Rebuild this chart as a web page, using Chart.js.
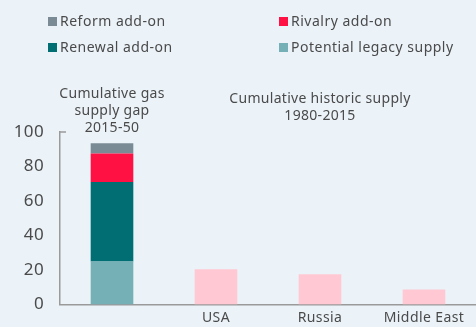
<!DOCTYPE html>
<html>
<head>
<meta charset="utf-8">
<script src="https://cdn.jsdelivr.net/npm/chart.js@4.4.1/dist/chart.umd.min.js"></script>
<style>
  html, body { margin: 0; padding: 0; background: #EBF3F9; }
  #wrap { position: relative; width: 476px; height: 327px; }
  canvas { position: absolute; left: 0; top: 0; }
  .legend { position: absolute; font-family: "Noto Sans", sans-serif; font-size: 14px; letter-spacing: 0.5px; color: #4a4a4a; white-space: nowrap; line-height: 16px; }
  .legend span.sw { display: inline-block; width: 9px; height: 9px; margin-right: 3px; vertical-align: 0px; }
</style>
</head>
<body>
<div id="wrap">
  <canvas id="c" width="476" height="327"></canvas>
  <div class="legend" style="left:48px; top:13px;"><span class="sw" style="background:#7B8B96"></span>Reform add-on</div>
  <div class="legend" style="left:279px; top:13px;"><span class="sw" style="background:#FF1243"></span>Rivalry add-on</div>
  <div class="legend" style="left:48px; top:39px;"><span class="sw" style="background:#006E73"></span>Renewal add-on</div>
  <div class="legend" style="left:279px; top:39px;"><span class="sw" style="background:#75B0B6"></span>Potential legacy supply</div>
</div>
<script>
// Categories and values
const categories = ["", "USA", "Russia", "Middle East"];
const legacySupply = [25, null, null, null];
const renewalAddOn = [46, null, null, null];
const rivalryAddOn = [16.5, null, null, null];
const reformAddOn = [6, null, null, null];
const historicSupply = [null, 20.5, 17.6, 8.7];
const yTicks = [0, 20, 40, 60, 80, 100];

const FONT = '"Noto Sans", sans-serif';
const TEXT = '#4a4a4a';

// Slightly open letter spacing for all canvas text
const spacing = {
  id: 'spacing',
  beforeDraw(chart) { chart.ctx.letterSpacing = '0.4px'; }
};

// Group captions above the bars
const captions = {
  id: 'captions',
  afterDraw(chart) {
    const ctx = chart.ctx;
    const x = chart.scales.x;
    ctx.save();
    ctx.letterSpacing = '0.3px';
    ctx.font = '14px ' + FONT;
    ctx.fillStyle = TEXT;
    ctx.textAlign = 'center';
    ctx.textBaseline = 'middle';
    const x0 = x.getPixelForValue(0);
    ['Cumulative gas', 'supply gap', '2015-50'].forEach((t, i) => ctx.fillText(t, x0, 94 + i * 17));
    const x2 = x.getPixelForValue(2);
    ['Cumulative historic supply', '1980-2015'].forEach((t, i) => ctx.fillText(t, x2, 99 + i * 17));
    // small cap at the top of the value axis
    const y = chart.scales.y;
    const top = y.getPixelForValue(100);
    ctx.strokeStyle = '#9a9a9a';
    ctx.lineWidth = 1.5;
    ctx.beginPath();
    ctx.moveTo(chart.chartArea.left, top);
    ctx.lineTo(chart.chartArea.left + 6, top);
    ctx.stroke();
    ctx.restore();
  }
};

const common = { stack: 's', barPercentage: 0.41, categoryPercentage: 1.0, borderWidth: 0 };

new Chart(document.getElementById('c'), {
  type: 'bar',
  data: {
    labels: categories,
    datasets: [
      { label: 'Potential legacy supply', data: legacySupply, backgroundColor: '#75B0B6', ...common },
      { label: 'Renewal add-on', data: renewalAddOn, backgroundColor: '#006E73', ...common },
      { label: 'Rivalry add-on', data: rivalryAddOn, backgroundColor: '#FF1243', ...common },
      { label: 'Reform add-on', data: reformAddOn, backgroundColor: '#7B8B96', ...common },
      { label: 'Cumulative historic supply', data: historicSupply, backgroundColor: '#FFC8D3', ...common }
    ]
  },
  options: {
    responsive: false,
    animation: false,
    layout: { padding: { top: 132, right: 0, bottom: 0, left: 0 } },
    plugins: { legend: { display: false }, tooltip: { enabled: false } },
    scales: {
      x: {
        stacked: true,
        afterFit(s) { s.height = 22.5; },
        grid: { display: false, drawTicks: false },
        border: { color: '#9a9a9a', width: 1.5 },
        ticks: { color: TEXT, font: { family: FONT, size: 14 }, padding: 5, maxRotation: 0 }
      },
      y: {
        stacked: true,
        min: 0, max: 100,
        afterFit(s) { s.width = 60; s.paddingTop = 0; s.paddingBottom = 0; },
        afterBuildTicks(s) { s.ticks = yTicks.map(v => ({ value: v })); },
        grid: { display: false, drawTicks: false },
        border: { color: '#9a9a9a', width: 1.5 },
        ticks: { color: TEXT, font: { family: FONT, size: 17 }, padding: 16 }
      }
    }
  },
  plugins: [spacing, captions]
});
</script>
</body>
</html>
